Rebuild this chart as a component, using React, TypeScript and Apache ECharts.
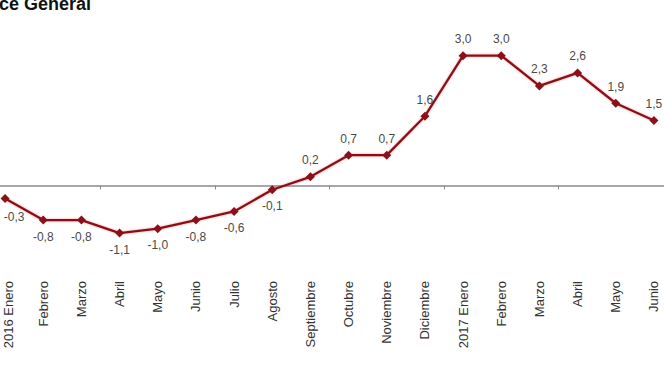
import React, { useEffect, useRef } from "react";
import * as echarts from "echarts";

const titleText = "Índice General";
const categories = [
  "2016 Enero", "Febrero", "Marzo", "Abril", "Mayo", "Junio", "Julio", "Agosto",
  "Septiembre", "Octubre", "Noviembre", "Diciembre",
  "2017 Enero", "Febrero", "Marzo", "Abril", "Mayo", "Junio",
];
const values = [-0.3, -0.8, -0.8, -1.1, -1.0, -0.8, -0.6, -0.1, 0.2, 0.7, 0.7, 1.6, 3.0, 3.0, 2.3, 2.6, 1.9, 1.5];

const SHIFT = 14;
const FONT = "'Liberation Sans', Arial, sans-serif";

export default function App() {
  const ref = useRef<HTMLDivElement>(null);
  useEffect(() => {
    const chart = echarts.init(ref.current!, null, { renderer: "svg" });
    const fmt = (v: number) => v.toFixed(1).replace(".", ",");
    chart.setOption({
      animation: false,
      backgroundColor: "#ffffff",
      graphic: [
        {
          type: "text",
          left: SHIFT - 33,
          top: -5,
          style: {
            text: titleText,
            font: "bold 18px " + FONT,
            fill: "#111",
          },
        },
      ],
      grid: { left: 0, right: 0, top: 34, height: 238, containLabel: false },
      xAxis: [
        {
          type: "category",
          data: categories,
          boundaryGap: true,
          axisLine: { onZero: true, lineStyle: { color: "#8a8a8a", width: 1.5 } },
          axisTick: { show: true, length: 4, lineStyle: { color: "#8a8a8a" } },
          axisLabel: { show: false },
        },
        {
          type: "category",
          data: categories,
          position: "bottom",
          boundaryGap: true,
          axisLine: { show: false, onZero: false },
          axisTick: { show: false },
          axisLabel: {
            rotate: 90,
            interval: 0,
            margin: 9,
            color: "#333",
            fontSize: 13,
            fontFamily: FONT,
            formatter: (v: string, i: number) => (i === 0 ? `{first|${v}}` : v),
            rich: {
              first: { padding: [6, 0, 0, 0], fontSize: 13, color: "#333", fontFamily: FONT },
            },
          },
        },
      ],
      yAxis: {
        type: "value",
        min: -2,
        max: 3.5,
        show: false,
        splitLine: { show: false },
      },
      series: [
        {
          type: "line",
          xAxisIndex: 0,
          data: values.map((v, i) => ({
            value: v,
            label: i === 0
              ? { position: "bottom", offset: [9, 2] }
              : { position: v < 0 ? "bottom" : "top" },
          })),
          symbol: "diamond",
          symbolSize: 9,
          lineStyle: { color: "#8b1019", width: 2.3, shadowColor: "rgba(220,60,60,0.5)", shadowBlur: 2 },
          itemStyle: { color: "#8b1019" },
          label: {
            show: true,
            distance: 6,
            color: "#4a4a4a",
            fontSize: 12,
            fontFamily: FONT,
            formatter: (p: any) => fmt(p.value),
          },
        },
      ],
    });
    return () => chart.dispose();
  }, []);
  return (
    <div style={{ width: 664, height: 372, position: "absolute", left: 0, top: 0, overflow: "hidden", background: "#fff" }}>
      <div ref={ref} style={{ width: 664 + SHIFT + 9, height: 372, position: "absolute", left: -SHIFT, top: 0 }} />
    </div>
  );
}
